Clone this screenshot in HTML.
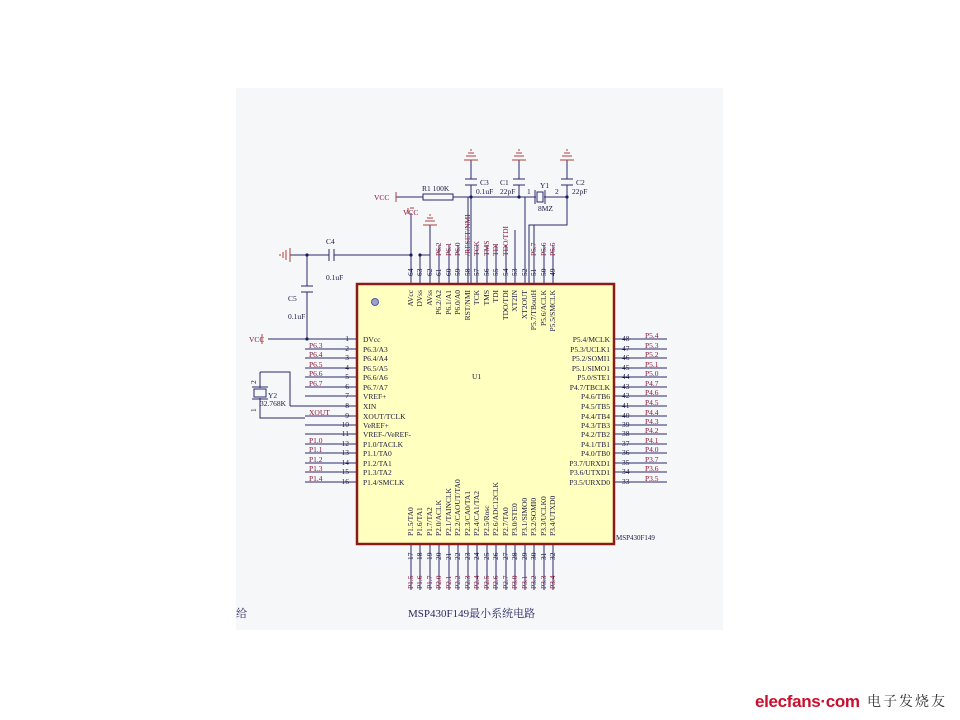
<!DOCTYPE html>
<html><head><meta charset="utf-8"><style>
html,body{margin:0;padding:0;background:#fff;width:960px;height:720px;overflow:hidden}
svg{display:block}
text{font-family:"Liberation Serif","Noto Serif CJK SC",serif;font-size:7.5px}
.r{fill:#8b1a3a}.b{fill:#1a1a40}
</style></head><body>
<svg width="960" height="720" viewBox="0 0 960 720" xmlns="http://www.w3.org/2000/svg">
<rect x="236" y="88" width="487" height="542" fill="#f6f7f9"/>
<g stroke="#2a2a6a" stroke-width="1" fill="none">
<path d="M411,213V284M420,255V284M430,225V284M439,245V284M449,245V284M458,245V284M468,197V284M477,245V284M487,245V284M496,245V284M506,245V284M515,230V284M525,197V284M534,225V284M544,245V284M553,245V284"/>
<path d="M305,339H357M305,349H357M305,358H357M305,368H357M305,377H357M305,387H357M305,396H357M290,406H357M305,416H357M305,425H357M305,434H357M305,444H357M305,453H357M305,463H357M305,472H357M305,482H357"/>
<path d="M614,339H667M614,349H667M614,358H667M614,368H667M614,377H667M614,387H667M614,396H667M614,406H667M614,416H667M614,425H667M614,434H667M614,444H667M614,453H667M614,463H667M614,472H667M614,482H667"/>
<path d="M411,544V590M420,544V590M430,544V590M439,544V590M449,544V590M458,544V590M468,544V590M477,544V590M487,544V590M496,544V590M506,544V590M515,544V590M525,544V590M534,544V590M544,544V590M553,544V590"/>
<path d="M290,255H329M334,255H411M420,255H430M307,255V286M307,292V339M268,339H305"/>
<path d="M329,249V261M334,249V261M301,286H313M301,292H313"/>
<path d="M396,197H423M453,197H525M471,160V179M471,185V284"/>
<rect x="423" y="194" width="30" height="6"/>
<path d="M465,179H477M465,185H477M513,179H525M513,185H525M561,179H573M561,185H573"/>
<path d="M519,160V179M519,185V197M525,197H536M544,197H567M567,160V179M567,185V225H529V284"/>
<rect x="537" y="192" width="6" height="10"/>
<path d="M535,190V204M545,190V204"/>
<path d="M260,372H290V406M260,372V388M260,398V418H305"/>
<rect x="254" y="389" width="12" height="8"/>
<path d="M252,387H268M252,399H268"/>
</g>
<g stroke="#b04040" stroke-width="1">
<path d="M464,160H478M466,156H476M468,153H474M470,150H472M512,160H526M514,156H524M516,153H522M518,150H520M560,160H574M562,156H572M564,153H570M566,150H568M423,225H437M425,221H435M427,218H433M429,215H431"/>
<path d="M290,248V262M286,250V260M283,252V258M280,254V256"/>
<path d="M262,334V344M396,192V202M408,208V214M410,208H414"/>
</g>
<g fill="#1a1a60"><circle cx="307" cy="255" r="1.6"/><circle cx="411" cy="255" r="1.6"/><circle cx="420" cy="255" r="1.6"/><circle cx="471" cy="197" r="1.6"/><circle cx="519" cy="197" r="1.6"/><circle cx="567" cy="197" r="1.6"/><circle cx="307" cy="339" r="1.6"/></g>
<rect x="357" y="284" width="257" height="260" fill="#ffffc0" stroke="#8b1a1a" stroke-width="2.5"/>
<circle cx="375" cy="302" r="3.5" fill="#9aa0d0" stroke="#5060a0"/>
<text x="472" y="379" class="b">U1</text>
<text x="616" y="540" class="b" style="font-size:7px">MSP430F149</text>
<text class="r" x="374" y="200">VCC</text>
<text class="r" x="403" y="215">VCC</text>
<text class="r" x="249" y="342">VCC</text>
<text class="b" x="422" y="191">R1  100K</text>
<text class="b" x="480" y="185">C3</text><text class="b" x="476" y="194">0.1uF</text>
<text class="b" x="500" y="185">C1</text><text class="b" x="500" y="194">22pF</text>
<text class="b" x="540" y="188">Y1</text><text class="b" x="527" y="194">1</text><text class="b" x="555" y="194">2</text><text class="b" x="538" y="211">8MZ</text>
<text class="b" x="576" y="185">C2</text><text class="b" x="572" y="194">22pF</text>
<text class="b" x="326" y="244">C4</text><text class="b" x="326" y="280">0.1uF</text>
<text class="b" x="288" y="301">C5</text><text class="b" x="288" y="319">0.1uF</text>
<text class="b" x="268" y="398">Y2</text><text class="b" x="260" y="406">32.768K</text>
<text class="b" x="256" y="384" transform="rotate(-90 256 384)">2</text>
<text class="b" x="256" y="412" transform="rotate(-90 256 412)">1</text>
<g class="b" text-anchor="end">
<text x="349" y="341">1</text><text x="349" y="351">2</text><text x="349" y="360">3</text><text x="349" y="370">4</text><text x="349" y="379">5</text><text x="349" y="389">6</text><text x="349" y="398">7</text><text x="349" y="408">8</text><text x="349" y="418">9</text><text x="349" y="427">10</text><text x="349" y="436">11</text><text x="349" y="446">12</text><text x="349" y="455">13</text><text x="349" y="465">14</text><text x="349" y="474">15</text><text x="349" y="484">16</text>
</g>
<g class="r">
<text x="309" y="348">P6.3</text><text x="309" y="357">P6.4</text><text x="309" y="367">P6.5</text><text x="309" y="376">P6.6</text><text x="309" y="386">P6.7</text><text x="309" y="415">XOUT</text><text x="309" y="443">P1.0</text><text x="309" y="452">P1.1</text><text x="309" y="462">P1.2</text><text x="309" y="471">P1.3</text><text x="309" y="481">P1.4</text>
</g>
<g class="b">
<text x="363" y="342">DVcc</text><text x="363" y="352">P6.3/A3</text><text x="363" y="361">P6.4/A4</text><text x="363" y="371">P6.5/A5</text><text x="363" y="380">P6.6/A6</text><text x="363" y="390">P6.7/A7</text><text x="363" y="399">VREF+</text><text x="363" y="409">XIN</text><text x="363" y="419">XOUT/TCLK</text><text x="363" y="428">VeREF+</text><text x="363" y="437">VREF-/VeREF-</text><text x="363" y="447">P1.0/TACLK</text><text x="363" y="456">P1.1/TA0</text><text x="363" y="466">P1.2/TA1</text><text x="363" y="475">P1.3/TA2</text><text x="363" y="485">P1.4/SMCLK</text>
</g>
<g class="b" text-anchor="end">
<text x="610" y="342">P5.4/MCLK</text><text x="610" y="352">P5.3/UCLK1</text><text x="610" y="361">P5.2/SOMI1</text><text x="610" y="371">P5.1/SIMO1</text><text x="610" y="380">P5.0/STE1</text><text x="610" y="390">P4.7/TBCLK</text><text x="610" y="399">P4.6/TB6</text><text x="610" y="409">P4.5/TB5</text><text x="610" y="419">P4.4/TB4</text><text x="610" y="428">P4.3/TB3</text><text x="610" y="437">P4.2/TB2</text><text x="610" y="447">P4.1/TB1</text><text x="610" y="456">P4.0/TB0</text><text x="610" y="466">P3.7/URXD1</text><text x="610" y="475">P3.6/UTXD1</text><text x="610" y="485">P3.5/URXD0</text>
</g>
<g class="b">
<text x="622" y="341">48</text><text x="622" y="351">47</text><text x="622" y="360">46</text><text x="622" y="370">45</text><text x="622" y="379">44</text><text x="622" y="389">43</text><text x="622" y="398">42</text><text x="622" y="408">41</text><text x="622" y="418">40</text><text x="622" y="427">39</text><text x="622" y="436">38</text><text x="622" y="446">37</text><text x="622" y="455">36</text><text x="622" y="465">35</text><text x="622" y="474">34</text><text x="622" y="484">33</text>
</g>
<g class="r">
<text x="645" y="338">P5.4</text><text x="645" y="348">P5.3</text><text x="645" y="357">P5.2</text><text x="645" y="367">P5.1</text><text x="645" y="376">P5.0</text><text x="645" y="386">P4.7</text><text x="645" y="395">P4.6</text><text x="645" y="405">P4.5</text><text x="645" y="415">P4.4</text><text x="645" y="424">P4.3</text><text x="645" y="433">P4.2</text><text x="645" y="443">P4.1</text><text x="645" y="452">P4.0</text><text x="645" y="462">P3.7</text><text x="645" y="471">P3.6</text><text x="645" y="481">P3.5</text>
</g>
<g class="b">
<text transform="translate(413,276) rotate(-90)">64</text><text transform="translate(422,276) rotate(-90)">63</text><text transform="translate(432,276) rotate(-90)">62</text><text transform="translate(441,276) rotate(-90)">61</text><text transform="translate(451,276) rotate(-90)">60</text><text transform="translate(460,276) rotate(-90)">59</text><text transform="translate(470,276) rotate(-90)">58</text><text transform="translate(479,276) rotate(-90)">57</text><text transform="translate(489,276) rotate(-90)">56</text><text transform="translate(498,276) rotate(-90)">55</text><text transform="translate(508,276) rotate(-90)">54</text><text transform="translate(517,276) rotate(-90)">53</text><text transform="translate(527,276) rotate(-90)">52</text><text transform="translate(536,276) rotate(-90)">51</text><text transform="translate(546,276) rotate(-90)">50</text><text transform="translate(555,276) rotate(-90)">49</text>
</g>
<g class="r">
<text transform="translate(441,256) rotate(-90)">P6.2</text><text transform="translate(451,256) rotate(-90)">P6.1</text><text transform="translate(460,256) rotate(-90)">P6.0</text><text transform="translate(470,256) rotate(-90)">/RESET/NMI</text><text transform="translate(479,256) rotate(-90)">TCK</text><text transform="translate(489,256) rotate(-90)">TMS</text><text transform="translate(498,256) rotate(-90)">TDI</text><text transform="translate(508,256) rotate(-90)">TDO/TDI</text><text transform="translate(536,256) rotate(-90)">P5.7</text><text transform="translate(546,256) rotate(-90)">P5.6</text><text transform="translate(555,256) rotate(-90)">P5.5</text>
</g>
<g class="b" text-anchor="end">
<text transform="translate(413,290) rotate(-90)">AVcc</text><text transform="translate(422,290) rotate(-90)">DVss</text><text transform="translate(432,290) rotate(-90)">AVss</text><text transform="translate(441,290) rotate(-90)">P6.2/A2</text><text transform="translate(451,290) rotate(-90)">P6.1/A1</text><text transform="translate(460,290) rotate(-90)">P6.0/A0</text><text transform="translate(470,290) rotate(-90)">RST/NMI</text><text transform="translate(479,290) rotate(-90)">TCK</text><text transform="translate(489,290) rotate(-90)">TMS</text><text transform="translate(498,290) rotate(-90)">TDI</text><text transform="translate(508,290) rotate(-90)">TDO/TDI</text><text transform="translate(517,290) rotate(-90)">XT2IN</text><text transform="translate(527,290) rotate(-90)">XT2OUT</text><text transform="translate(536,290) rotate(-90)">P5.7/TBoutH</text><text transform="translate(546,290) rotate(-90)">P5.6/ACLK</text><text transform="translate(555,290) rotate(-90)">P5.5/SMCLK</text>
</g>
<g class="b">
<text transform="translate(413,536) rotate(-90)">P1.5/TA0</text><text transform="translate(422,536) rotate(-90)">P1.6/TA1</text><text transform="translate(432,536) rotate(-90)">P1.7/TA2</text><text transform="translate(441,536) rotate(-90)">P2.0/ACLK</text><text transform="translate(451,536) rotate(-90)">P2.1/TAINCLK</text><text transform="translate(460,536) rotate(-90)">P2.2/CAOUT/TA0</text><text transform="translate(470,536) rotate(-90)">P2.3/CA0/TA1</text><text transform="translate(479,536) rotate(-90)">P2.4/CA1/TA2</text><text transform="translate(489,536) rotate(-90)">P2.5/Rosc</text><text transform="translate(498,536) rotate(-90)">P2.6/ADC12CLK</text><text transform="translate(508,536) rotate(-90)">P2.7/TA0</text><text transform="translate(517,536) rotate(-90)">P3.0/STE0</text><text transform="translate(527,536) rotate(-90)">P3.1/SIMO0</text><text transform="translate(536,536) rotate(-90)">P3.2/SOMI0</text><text transform="translate(546,536) rotate(-90)">P3.3/UCLK0</text><text transform="translate(555,536) rotate(-90)">P3.4/UTXD0</text>
<text transform="translate(413,560) rotate(-90)">17</text><text transform="translate(422,560) rotate(-90)">18</text><text transform="translate(432,560) rotate(-90)">19</text><text transform="translate(441,560) rotate(-90)">20</text><text transform="translate(451,560) rotate(-90)">21</text><text transform="translate(460,560) rotate(-90)">22</text><text transform="translate(470,560) rotate(-90)">23</text><text transform="translate(479,560) rotate(-90)">24</text><text transform="translate(489,560) rotate(-90)">25</text><text transform="translate(498,560) rotate(-90)">26</text><text transform="translate(508,560) rotate(-90)">27</text><text transform="translate(517,560) rotate(-90)">28</text><text transform="translate(527,560) rotate(-90)">29</text><text transform="translate(536,560) rotate(-90)">30</text><text transform="translate(546,560) rotate(-90)">31</text><text transform="translate(555,560) rotate(-90)">32</text>
</g>
<g class="r">
<text transform="translate(413,589) rotate(-90)">P1.5</text><text transform="translate(422,589) rotate(-90)">P1.6</text><text transform="translate(432,589) rotate(-90)">P1.7</text><text transform="translate(441,589) rotate(-90)">P2.0</text><text transform="translate(451,589) rotate(-90)">P2.1</text><text transform="translate(460,589) rotate(-90)">P2.2</text><text transform="translate(470,589) rotate(-90)">P2.3</text><text transform="translate(479,589) rotate(-90)">P2.4</text><text transform="translate(489,589) rotate(-90)">P2.5</text><text transform="translate(498,589) rotate(-90)">P2.6</text><text transform="translate(508,589) rotate(-90)">P2.7</text><text transform="translate(517,589) rotate(-90)">P3.0</text><text transform="translate(527,589) rotate(-90)">P3.1</text><text transform="translate(536,589) rotate(-90)">P3.2</text><text transform="translate(546,589) rotate(-90)">P3.3</text><text transform="translate(555,589) rotate(-90)">P3.4</text>
</g>
<text x="236" y="617" style="font-size:11px" fill="#2a2a60">给</text>
<text x="408" y="617" style="font-size:11px" fill="#2a2a60">MSP430F149最小系统电路</text>
<text x="755" y="707" style="font-family:'Liberation Sans',sans-serif;font-size:17px;font-weight:bold" fill="#c8102e" textLength="105">elecfans·com</text>
<text x="867" y="706" style="font-size:14px" fill="#333" textLength="78">电子发烧友</text>
</svg>
</body></html>
